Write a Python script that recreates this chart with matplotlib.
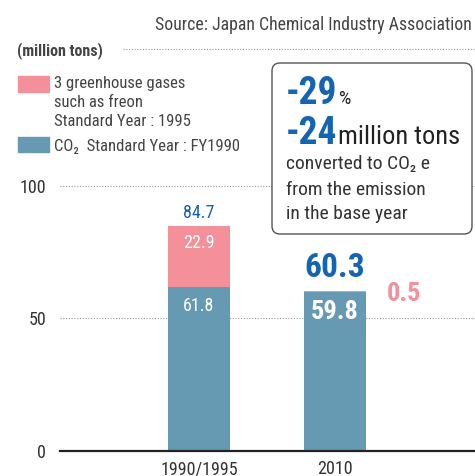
import matplotlib
matplotlib.use("Agg")
import matplotlib.pyplot as plt
from matplotlib.patches import FancyBboxPatch, Rectangle
from matplotlib.lines import Line2D
from matplotlib.transforms import Affine2D

# emissions, million tons (CO2 equivalent)
years = ["1990/1995", "2010"]
co2 = [61.8, 59.8]
other_gases = [22.9, 0.5]
totals = [84.7, 60.3]
yticks = [0, 50, 100]

PINK = "#f4909a"
TEAL = "#6699b2"
BLUE = "#1464b4"
GREY = "#444444"

plt.rcParams["font.family"] = ["Roboto Condensed", "DejaVu Sans"]

W, H = 475, 476
fig = plt.figure(figsize=(W / 100, H / 100), dpi=100)
# pixel coordinates measured from the top-left corner
px = Affine2D().scale(1 / W, -1 / H).translate(0, 1) + fig.transFigure

# plotting area: x from 60 to 475 px, y=0 at 450.5 px, y=100 at 186 px
ax = fig.add_axes([60 / W, (H - 450.5) / H, 415 / W, (450.5 - 186) / H])
x = [0, 1]
ax.set_xlim(-1.022, 2.029)
ax.set_ylim(0, 100)

for v in [50, 100]:
    ax.axhline(v, color="#999999", lw=0.8, ls=(0, (1, 1.5)), zorder=0, clip_on=False)

bw = 0.45
ax.bar(x, co2, width=bw, color=TEAL, zorder=2)
ax.bar(x, other_gases, width=bw, bottom=co2, color=PINK, zorder=2)
ax.axhline(0, color="#222222", lw=1.6, zorder=3, clip_on=False)

for s in ax.spines.values():
    s.set_visible(False)
ax.set_yticks(yticks)
ax.set_yticklabels([str(t) for t in yticks], fontsize=13, color="#333333")
ax.set_xticks(x)
ax.set_xticklabels(years, fontsize=13, color="#333333")
ax.tick_params(axis="y", length=0, pad=10)
ax.tick_params(axis="x", length=0, pad=7)

# value labels for the base-year bar
ax.annotate(f"{totals[0]}", (x[0], totals[0]), xytext=(0, 13), textcoords="offset pixels",
            ha="center", va="center", fontsize=13, color=BLUE)
ax.annotate(f"{other_gases[0]}", (x[0], totals[0]), xytext=(0, -17), textcoords="offset pixels",
            ha="center", va="center", fontsize=13, color="white")
ax.annotate(f"{co2[0]}", (x[0], co2[0]), xytext=(0, -19), textcoords="offset pixels",
            ha="center", va="center", fontsize=13, color="white")

# value labels for 2010
ax.annotate(f"{totals[1]}", (x[1], totals[1]), xytext=(0, 23), textcoords="offset pixels",
            ha="center", va="center", fontsize=24, fontweight="bold", color=BLUE)
ax.annotate(f"{other_gases[1]}", (x[1] + bw / 2, totals[1]), xytext=(21, -3),
            textcoords="offset pixels", ha="left", va="center", fontsize=19,
            fontweight="bold", color=PINK)
ax.annotate(f"{co2[1]}", (x[1], co2[1]), xytext=(0, -20), textcoords="offset pixels",
            ha="center", va="center", fontsize=19, fontweight="bold", color="white")

# header
fig.text(472, 30, "Source: Japan Chemical Industry Association", transform=px,
         ha="right", va="baseline", fontsize=12.8, color=GREY)
fig.text(17, 55, "(million tons)", transform=px, ha="left", va="baseline",
         fontsize=11.5, fontweight="bold", color=GREY)
fig.add_artist(Line2D([123, 475], [48.5, 48.5], transform=px, color="#999999",
                      lw=0.8, ls=(0, (1, 1.5))))

# legend
fig.add_artist(Rectangle((18, 76), 31, 16, transform=px, color=PINK))
fig.add_artist(Rectangle((18, 137), 31, 15, transform=px, color=TEAL))
for yy, s in [(88, "3 greenhouse gases"), (107, "such as freon"),
              (126, "Standard Year : 1995"), (151, "CO\u2082  Standard Year : FY1990")]:
    fig.text(54, yy, s, transform=px, ha="left", va="baseline", fontsize=12, color=GREY)

# reduction summary box
fig.add_artist(FancyBboxPatch((276, 67), 192, 163, transform=px,
                              boxstyle="round,pad=4,rounding_size=8",
                              fc="white", ec="#555555", lw=1.0, zorder=5))

renderer = fig.canvas.get_renderer()


def run(xx, yy, parts):
    for s, size, weight, color in parts:
        t = fig.text(xx, yy, s, transform=px, ha="left", va="baseline", fontsize=size,
                     fontweight=weight, color=color, zorder=6)
        bb = t.get_window_extent(renderer)
        xx += bb.width * W / fig.bbox.width + 1


run(286, 104, [("-29", 27, "bold", BLUE), ("%", 14, "normal", "#222222")])
run(286, 144, [("-24", 27, "bold", BLUE), ("million tons", 19, "normal", "#222222")])
for yy, s in [(169, "converted to CO\u2082 e"), (195, "from the emission"),
              (219, "in the base year")]:
    fig.text(286, yy, s, transform=px, ha="left", va="baseline", fontsize=14,
             color="#333333", zorder=6)

fig.savefig("out.png", dpi=100)
